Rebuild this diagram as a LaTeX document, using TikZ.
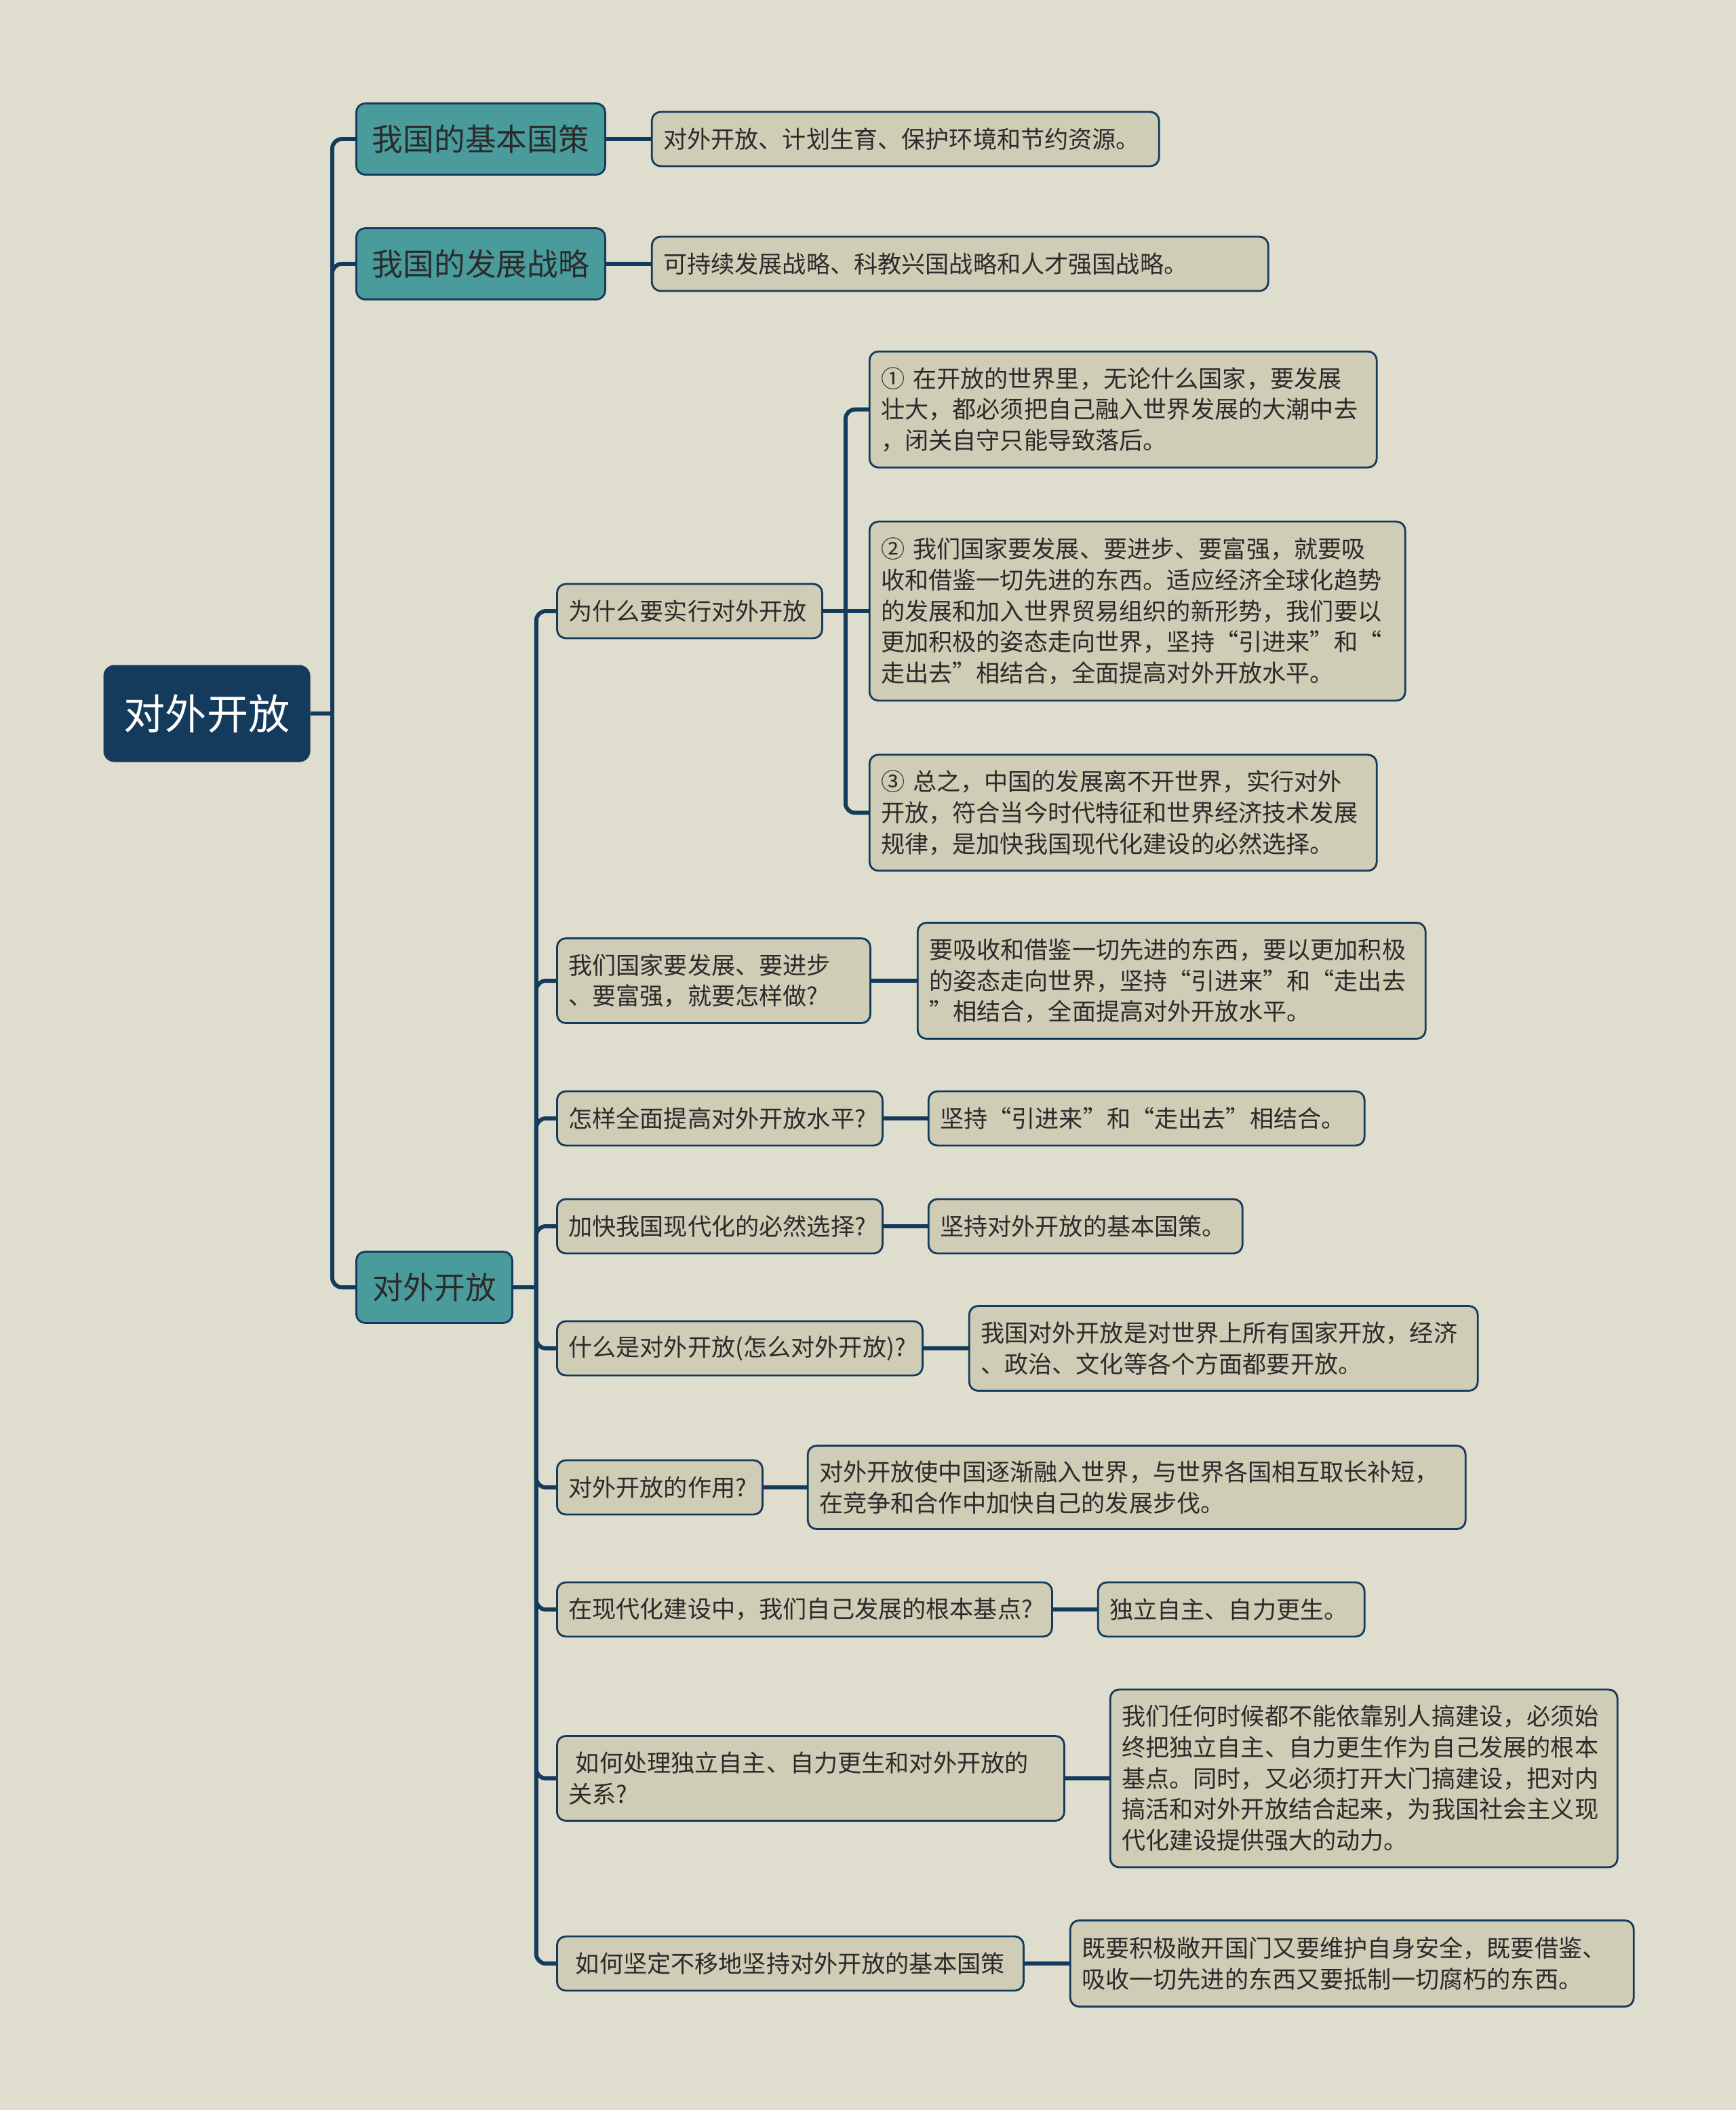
\documentclass[tikz,border=0pt]{standalone}
\usepackage{fontspec}
\setmainfont{Noto Sans CJK SC}
\usetikzlibrary{positioning}

\definecolor{bgpaper}{HTML}{DFDDCE}
\definecolor{navy}{HTML}{143B5C}
\definecolor{tealbox}{HTML}{4A9C9C}
\definecolor{sandbox}{HTML}{CFCDB5}
\definecolor{inktext}{HTML}{2B2B2B}

\begin{document}
\begin{tikzpicture}[
    node distance=0.65cm,
    rootbox/.style={rectangle, fill=navy, rounded corners=0.16cm, minimum width=3.05cm,
                    minimum height=1.43cm, text=white, font=\fontsize{17.4}{20}\selectfont},
    topic/.style={rectangle, draw=navy, line width=0.8pt, fill=tealbox, rounded corners=0.13cm,
                  minimum height=1.05cm, text=inktext, font=\fontsize{13}{16}\selectfont},
    ask/.style={rectangle, draw=navy, line width=0.8pt, fill=sandbox, rounded corners=0.13cm,
                minimum height=0.8cm, inner xsep=0.17cm, align=left, text=inktext,
                font=\fontsize{10}{13}\selectfont},
    answer/.style={ask},
    link/.style={navy, line width=1.7pt},
    branch/.style={link, rounded corners=0.14cm}
  ]
  % ---- Canvas ----
  \fill[bgpaper] (0,0) rectangle (25.60,-31.11);
  \useasboundingbox (0,0) rectangle (25.60,-31.11);

  % ---- Root and main topics ----
  \node[rootbox] (root) at (3.05,-10.52) {对外开放};
  \node[topic, minimum width=3.67cm, anchor=west] (policy)   at (5.24,-2.05)  {我国的基本国策};
  \node[topic, minimum width=3.67cm, anchor=west] (strategy) at (5.24,-3.89)  {我国的发展战略};
  \node[topic, minimum width=2.30cm, anchor=west] (opening)  at (5.24,-18.98) {对外开放};

  \node[answer, text width=7.14cm, right=0.66cm of policy]   (policyans)   {对外开放、计划生育、保护环境和节约资源。};
  \node[answer, text width=8.75cm, right=0.66cm of strategy] (strategyans) {可持续发展战略、科教兴国战略和人才强国战略。};

  % ---- Questions ----
  \node[ask, text width=3.57cm, anchor=west] (q1) at (8.20,-9.01)  {为什么要实行对外开放};
  \node[ask, text width=4.28cm, minimum height=1.25cm, anchor=west] (q2) at (8.20,-14.46)
       {我们国家要发展、要进步\\、要富强，就要怎样做?};
  \node[ask, text width=4.46cm, anchor=west] (q3) at (8.20,-16.49) {怎样全面提高对外开放水平?};
  \node[ask, text width=4.46cm, anchor=west] (q4) at (8.20,-18.08) {加快我国现代化的必然选择?};
  \node[ask, text width=5.05cm, anchor=west] (q5) at (8.20,-19.88) {什么是对外开放(怎么对外开放)?};
  \node[ask, text width=2.69cm, anchor=west] (q6) at (8.20,-21.93) {对外开放的作用?};
  \node[ask, text width=6.96cm, anchor=west] (q7) at (8.20,-23.73) {在现代化建设中，我们自己发展的根本基点?};
  \node[ask, text width=7.14cm, minimum height=1.25cm, anchor=west] (q8) at (8.20,-26.22)
       {\hspace{0.3em}如何处理独立自主、自力更生和对外开放的\\关系?};
  \node[ask, text width=6.54cm, anchor=west] (q9) at (8.20,-28.95) {\hspace{0.3em}如何坚定不移地坚持对外开放的基本国策};

  % ---- Answers ----
  \node[answer, text width=7.56cm, minimum height=2.64cm, right=0.67cm of q1] (e2)
       {②~我们国家要发展、要进步、要富强，就要吸\\收和借鉴一切先进的东西。适应经济全球化趋势\\的发展和加入世界贸易组织的新形势，我们要以\\更加积极的姿态走向世界，坚持“引进来”和“\\走出去”相结合，全面提高对外开放水平。};
  \node[answer, text width=7.14cm, minimum height=1.71cm, above=0.77cm of e2.north west, anchor=south west] (e1)
       {①~在开放的世界里，无论什么国家，要发展\\壮大，都必须把自己融入世界发展的大潮中去\\，闭关自守只能导致落后。};
  \node[answer, text width=7.14cm, minimum height=1.71cm, below=0.77cm of e2.south west, anchor=north west] (e3)
       {③~总之，中国的发展离不开世界，实行对外\\开放，符合当今时代特征和世界经济技术发展\\规律，是加快我国现代化建设的必然选择。};
  \node[answer, text width=7.15cm, minimum height=1.71cm, right=0.67cm of q2] (a2)
       {要吸收和借鉴一切先进的东西，要以更加积极\\的姿态走向世界，坚持“引进来”和“走出去\\”相结合，全面提高对外开放水平。};
  \node[answer, text width=6.09cm, right=of q3] (a3) {坚持“引进来”和“走出去”相结合。};
  \node[answer, text width=4.29cm, right=of q4] (a4) {坚持对外开放的基本国策。};
  \node[answer, text width=7.16cm, minimum height=1.25cm, right=0.66cm of q5] (a5)
       {我国对外开放是对世界上所有国家开放，经济\\、政治、文化等各个方面都要开放。};
  \node[answer, text width=9.36cm, minimum height=1.23cm, right=0.64cm of q6] (a6)
       {对外开放使中国逐渐融入世界，与世界各国相互取长补短，\\在竞争和合作中加快自己的发展步伐。};
  \node[answer, text width=3.59cm, right=of q7] (a7) {独立自主、自力更生。};
  \node[answer, text width=7.14cm, minimum height=2.62cm, right=of q8] (a8)
       {我们任何时候都不能依靠别人搞建设，必须始\\终把独立自主、自力更生作为自己发展的根本\\基点。同时，又必须打开大门搞建设，把对内\\搞活和对外开放结合起来，为我国社会主义现\\代化建设提供强大的动力。};
  \node[answer, text width=7.97cm, minimum height=1.27cm, right=0.66cm of q9] (a9)
       {既要积极敞开国门又要维护自身安全，既要借鉴、\\吸收一切先进的东西又要抵制一切腐朽的东西。};

  % ---- Connectors ----
  \draw[link] (root.east) -- (4.90,-10.52) coordinate (hubA);
  \foreach \t in {policy, strategy, opening}
    \draw[branch] (hubA) |- (\t.west);
  \draw[link] (policy.east) -- (policyans.west);
  \draw[link] (strategy.east) -- (strategyans.west);

  \draw[link] (opening.east) -- ++(0.34,0) coordinate (hubB);
  \foreach \q in {q1,q2,q3,q4,q5,q6,q7,q8,q9}
    \draw[branch] (hubB) |- (\q.west);

  \draw[link] (q1.east) -- (e2.west);
  \draw[link] (q1.east) -- ++(0.33,0) coordinate (hubC);
  \foreach \e in {e1, e3}
    \draw[branch] (hubC) |- (\e.west);

  \foreach \n in {2,...,9}
    \draw[link] (q\n.east) -- (a\n.west);
\end{tikzpicture}
\end{document}
